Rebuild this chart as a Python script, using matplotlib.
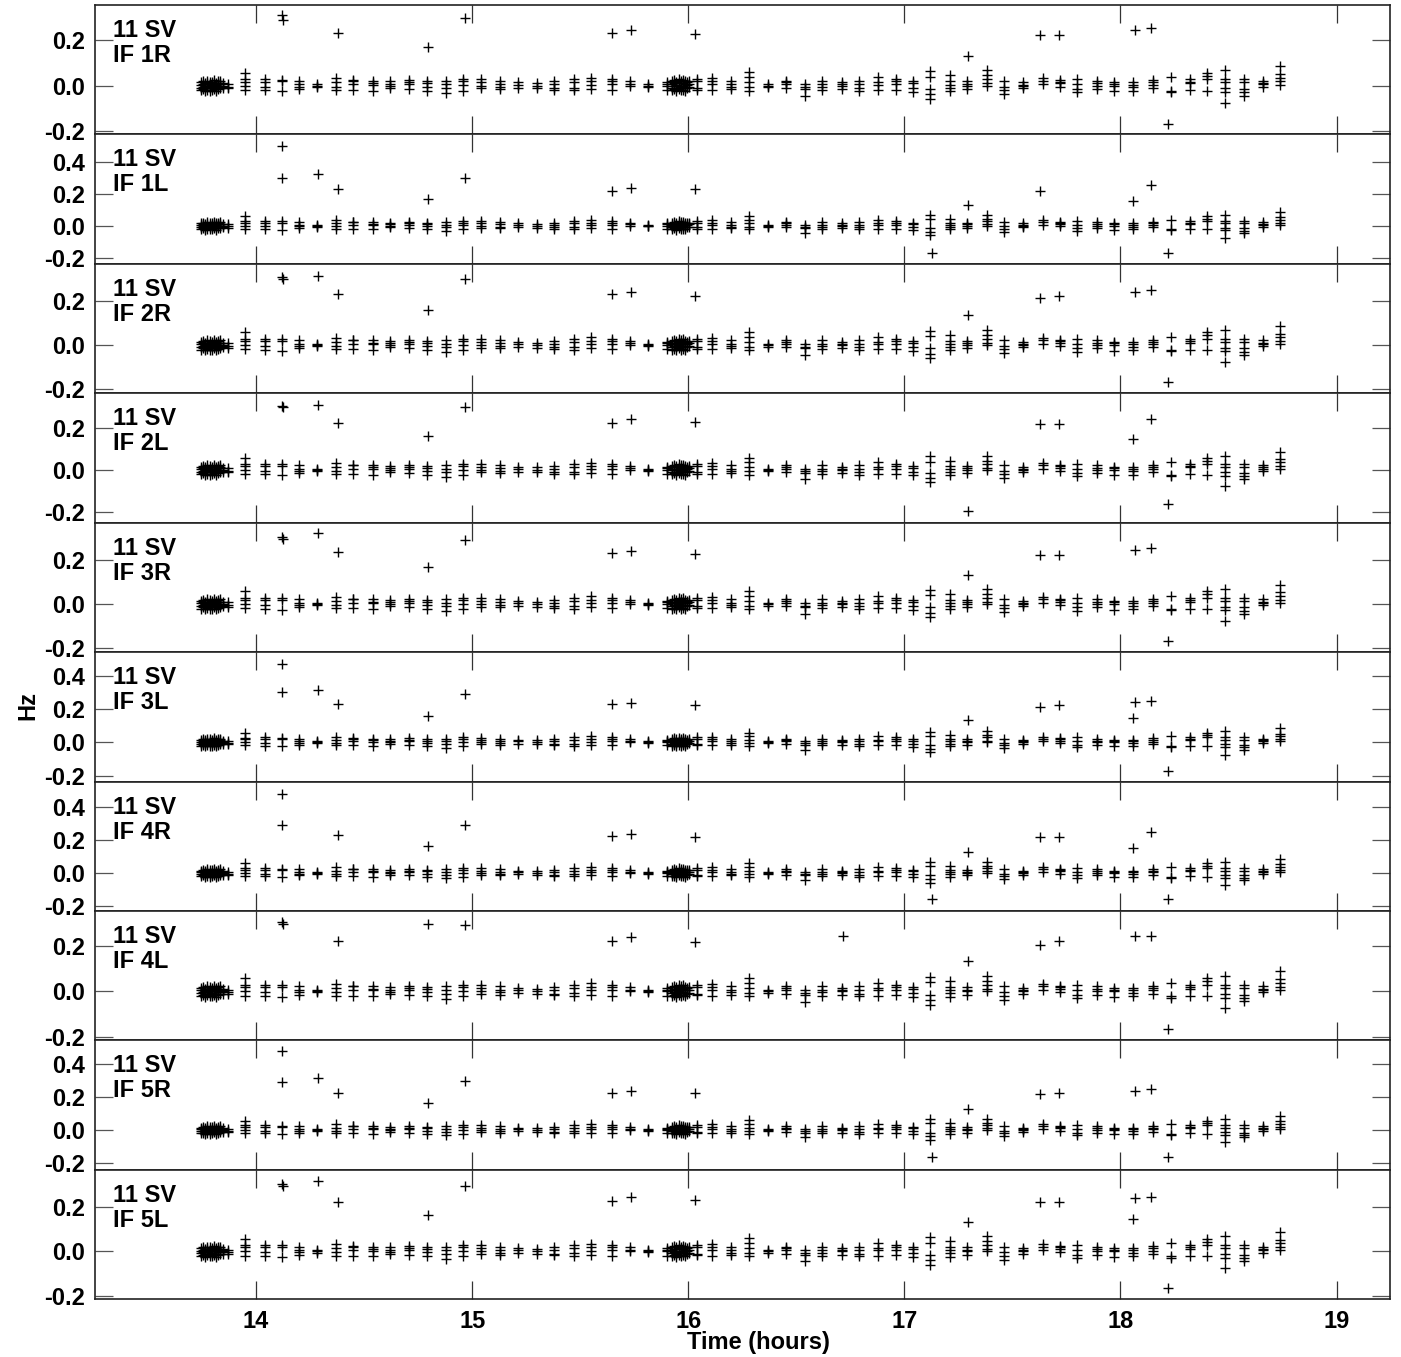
import matplotlib
matplotlib.use("Agg")
import matplotlib.pyplot as plt
from matplotlib.ticker import MultipleLocator, FormatStrFormatter

plt.rcParams['font.family'] = ['Liberation Sans', 'DejaVu Sans']
plt.rcParams['font.weight'] = 'bold'
plt.rcParams['axes.unicode_minus'] = False

# ---------------- data ----------------
panel_labels = ["IF 1R", "IF 1L", "IF 2R", "IF 2L", "IF 3R",
                "IF 3L", "IF 4R", "IF 4L", "IF 5R", "IF 5L"]
source_label = "11 SV"

ylims = [(-0.215, 0.356), (-0.238, 0.570), (-0.219, 0.370), (-0.253, 0.368),
         (-0.218, 0.370), (-0.236, 0.542), (-0.232, 0.558), (-0.217, 0.355),
         (-0.242, 0.545), (-0.215, 0.367)]
xlim = (13.255, 19.247)
xticks = [14, 15, 16, 17, 18, 19]

# dense clusters of short scans (hours) and their rates (Hz)
blob_t = [13.745, 13.755, 13.765, 13.775, 13.785, 13.795, 13.805, 13.815, 13.825,
          13.835, 13.845,
          15.925, 15.935, 15.945, 15.955, 15.965, 15.975, 15.985, 15.995, 16.005]
blob_v = [[0.015, 0.004, -0.008, -0.020], [0.020, 0.008, -0.004, -0.015],
          [0.012, 0.0, -0.012, -0.024], [0.022, 0.010, -0.002, -0.018],
          [0.018, 0.006, -0.010, -0.022], [0.016, 0.002, -0.006, -0.020],
          [0.024, 0.012, 0.0, -0.014], [0.014, 0.004, -0.010, -0.024],
          [0.020, 0.008, -0.004, -0.016], [0.022, 0.012, -0.002, -0.012],
          [0.010, 0.0, -0.010],
          [0.020, 0.006, -0.008, -0.020], [0.024, 0.012, -0.002, -0.016],
          [0.018, 0.004, -0.010, -0.024], [0.028, 0.014, 0.0, -0.014],
          [0.022, 0.010, -0.006, -0.020], [0.026, 0.012, -0.002, -0.018],
          [0.020, 0.006, -0.008, -0.022], [0.016, 0.004, -0.010],
          [0.020, 0.008, -0.006]]

# regular scans (hours) and their rates (Hz), common to all IFs
scan_t = [13.87, 13.95, 14.04, 14.12, 14.20, 14.28, 14.37, 14.45, 14.54, 14.62,
          14.71, 14.79, 14.88, 14.96, 15.04, 15.13, 15.21, 15.30, 15.38, 15.47,
          15.55, 15.645, 15.73, 15.815, 15.90, 16.04, 16.11, 16.20, 16.28, 16.37,
          16.45, 16.54, 16.62, 16.71, 16.79, 16.88, 16.96, 17.04, 17.12, 17.21,
          17.29, 17.38, 17.46, 17.55, 17.64, 17.72, 17.80, 17.89, 17.97, 18.06,
          18.15, 18.235, 18.32, 18.40, 18.485, 18.57, 18.66, 18.74]
scan_v = [[0.008, -0.004, -0.012],
          [0.058, 0.028, 0.018, 0.0, -0.019],
          [0.030, 0.018, -0.004, -0.020],
          [0.027, 0.020, -0.025],
          [0.022, 0.006, -0.004, -0.015],
          [0.006, 0.0, -0.005],
          [0.034, 0.015, -0.004, -0.019],
          [0.025, 0.022, 0.007, -0.019],
          [0.022, 0.012, 0.004, -0.022],
          [0.019, 0.008, -0.001, -0.010],
          [0.025, 0.015, 0.007, -0.015],
          [0.019, 0.010, -0.004, -0.022],
          [0.022, 0.007, -0.010, -0.032],
          [0.030, 0.020, 0.002, -0.022],
          [0.028, 0.015, 0.0, -0.012],
          [0.022, 0.008, -0.005, -0.015],
          [0.015, 0.005, -0.008],
          [0.012, 0.0, -0.012],
          [0.020, 0.006, -0.010, -0.018],
          [0.030, 0.015, -0.008, -0.020],
          [0.035, 0.020, 0.004, -0.015],
          [0.030, 0.020, 0.007, -0.019],
          [0.019, 0.008, 0.0],
          [0.007, 0.0, -0.004],
          [0.015, 0.008, 0.0, -0.019],
          [0.030, 0.019, -0.010, -0.018],
          [0.034, 0.020, 0.007, -0.019],
          [0.022, 0.007, -0.005, -0.015],
          [0.059, 0.037, 0.015, -0.007, -0.022],
          [0.007, 0.0, -0.007],
          [0.022, 0.015, 0.007, -0.010],
          [0.007, -0.007, -0.015, -0.045],
          [0.022, 0.007, -0.005, -0.019],
          [0.015, 0.006, 0.0, -0.015],
          [0.022, 0.007, -0.010, -0.022],
          [0.037, 0.015, 0.005, -0.019],
          [0.030, 0.020, 0.007, -0.018],
          [0.020, 0.010, -0.008, -0.026],
          [0.065, 0.040, -0.015, -0.038, -0.060],
          [0.045, 0.020, 0.005, -0.008, -0.023],
          [0.020, 0.008, 0.0, -0.015],
          [0.068, 0.045, 0.030, 0.010, 0.0],
          [0.022, -0.004, -0.019, -0.037],
          [0.015, 0.005, 0.0, -0.010],
          [0.034, 0.022, 0.007],
          [0.025, 0.018, 0.010, -0.004],
          [0.030, 0.007, -0.015, -0.030],
          [0.022, 0.010, 0.0, -0.015],
          [0.015, 0.008, 0.0, -0.025],
          [0.015, 0.005, -0.007, -0.022],
          [0.024, 0.015, 0.004, -0.010],
          [0.037, -0.022, -0.028],
          [0.030, 0.018, 0.012, -0.020],
          [0.058, 0.044, 0.030, -0.022],
          [0.068, 0.030, 0.015, -0.012, -0.028, -0.075],
          [0.030, 0.015, -0.015, -0.030, -0.044],
          [0.022, 0.012, 0.007, -0.005],
          [0.088, 0.053, 0.036, 0.020, 0.005]]

# per-IF outlying solutions (hours, Hz)
out_t = [
    [14.120, 14.125, 14.379, 14.795, 14.966, 15.646, 15.734, 16.030, 17.296, 17.629, 17.717, 18.068, 18.142, 18.221],
    [14.120, 14.120, 14.287, 14.379, 14.795, 14.966, 15.646, 15.734, 16.030, 17.130, 17.296, 17.629, 18.059, 18.142, 18.221],
    [14.120, 14.125, 14.287, 14.379, 14.795, 14.966, 15.646, 15.734, 16.030, 17.296, 17.629, 17.717, 18.068, 18.142, 18.221],
    [14.120, 14.125, 14.287, 14.379, 14.795, 14.966, 15.646, 15.734, 16.030, 17.296, 17.629, 17.717, 18.059, 18.142, 18.221],
    [14.120, 14.125, 14.287, 14.379, 14.795, 14.966, 15.646, 15.734, 16.030, 17.296, 17.629, 17.717, 18.068, 18.142, 18.221],
    [14.120, 14.120, 14.287, 14.379, 14.795, 14.966, 15.646, 15.734, 16.030, 17.296, 17.629, 17.717, 18.059, 18.068, 18.142, 18.221],
    [14.120, 14.120, 14.379, 14.795, 14.966, 15.646, 15.734, 16.030, 17.130, 17.296, 17.629, 17.717, 18.059, 18.142, 18.221],
    [14.120, 14.125, 14.379, 14.795, 14.966, 15.646, 15.734, 16.030, 16.714, 17.296, 17.629, 17.717, 18.068, 18.142, 18.221],
    [14.120, 14.120, 14.287, 14.379, 14.795, 14.966, 15.646, 15.734, 16.030, 17.130, 17.296, 17.629, 17.717, 18.068, 18.142, 18.221],
    [14.120, 14.125, 14.287, 14.379, 14.795, 14.966, 15.646, 15.734, 16.030, 17.296, 17.629, 17.717, 18.059, 18.068, 18.142, 18.221],
]
out_v = [
    [0.311, 0.292, 0.234, 0.169, 0.298, 0.231, 0.244, 0.227, 0.133, 0.222, 0.225, 0.247, 0.253, -0.170],
    [0.497, 0.298, 0.323, 0.230, 0.168, 0.298, 0.217, 0.236, 0.230, -0.168, 0.130, 0.217, 0.155, 0.255, -0.168],
    [0.308, 0.300, 0.317, 0.235, 0.158, 0.300, 0.231, 0.240, 0.222, 0.136, 0.213, 0.222, 0.244, 0.253, -0.167],
    [0.307, 0.300, 0.312, 0.225, 0.163, 0.302, 0.225, 0.245, 0.230, -0.197, 0.220, 0.220, 0.149, 0.245, -0.163],
    [0.305, 0.298, 0.323, 0.236, 0.168, 0.290, 0.232, 0.241, 0.227, 0.132, 0.223, 0.223, 0.245, 0.255, -0.168],
    [0.470, 0.300, 0.313, 0.228, 0.160, 0.289, 0.228, 0.234, 0.222, 0.137, 0.210, 0.222, 0.149, 0.240, 0.246, -0.172],
    [0.483, 0.296, 0.234, 0.162, 0.296, 0.228, 0.240, 0.222, -0.160, 0.131, 0.222, 0.222, 0.150, 0.253, -0.160],
    [0.306, 0.298, 0.223, 0.298, 0.293, 0.223, 0.240, 0.219, 0.245, 0.135, 0.205, 0.223, 0.245, 0.245, -0.168],
    [0.479, 0.290, 0.315, 0.224, 0.164, 0.297, 0.224, 0.236, 0.224, -0.164, 0.127, 0.218, 0.224, 0.236, 0.248, -0.164],
    [0.303, 0.296, 0.318, 0.224, 0.164, 0.296, 0.226, 0.243, 0.230, 0.134, 0.224, 0.221, 0.147, 0.240, 0.244, -0.166],
]

# ---------------- figure ----------------
W, H = 1401, 1357
fig = plt.figure(figsize=(W / 100, H / 100), dpi=100)

left_px, right_px = 95, 1390
top_px, bottom_px = 5, 1299.3
n = len(panel_labels)
ph = (bottom_px - top_px) / n

fs = 17
for i in range(n):
    top_i = top_px + i * ph
    ax = fig.add_axes([left_px / W, 1 - (top_i + ph) / H,
                       (right_px - left_px) / W, ph / H])
    xs, ys = [], []
    for t, vals in zip(blob_t, blob_v):
        for v in vals:
            xs.append(t); ys.append(v)
    for t, vals in zip(scan_t, scan_v):
        for v in vals:
            xs.append(t); ys.append(v)
    xs += out_t[i]
    ys += out_v[i]
    ax.plot(xs, ys, linestyle='none', marker='+', color='black',
            markersize=7.0, markeredgewidth=1.0)

    ax.set_xlim(*xlim)
    ax.set_ylim(*ylims[i])
    ax.set_xticks(xticks)
    ax.yaxis.set_major_locator(MultipleLocator(0.2))
    ax.yaxis.set_major_formatter(FormatStrFormatter('%.1f'))
    ax.tick_params(axis='y', which='major', direction='in', length=13,
                   width=0.9, color='#555555', left=True, right=True,
                   labelsize=fs, pad=7)
    ax.tick_params(axis='x', which='major', direction='in', length=13,
                   width=0.9, color='#333333', top=True, bottom=True,
                   labelsize=fs, pad=8)
    if i < n - 1:
        ax.tick_params(axis='x', labelbottom=False)
    for lab in ax.get_xticklabels() + ax.get_yticklabels():
        lab.set_fontweight('bold')
    for sp in ax.spines.values():
        sp.set_linewidth(1.2)
        sp.set_color('#222222')

    ax.text(0.0139, 1 - 32 / ph, source_label, transform=ax.transAxes,
            fontsize=fs, fontweight='bold', va='baseline', ha='left')
    ax.text(0.0139, 1 - 57 / ph, panel_labels[i], transform=ax.transAxes,
            fontsize=fs, fontweight='bold', va='baseline', ha='left')

fig.text(758 / W, 1 - 1349 / H, "Time (hours)", ha='center', va='baseline',
         fontsize=fs, fontweight='bold')
fig.text(28 / W, 1 - 705 / H, "Hz", ha='center', va='center', rotation=90,
         fontsize=fs, fontweight='bold')

fig.savefig("out.png", dpi=100)
